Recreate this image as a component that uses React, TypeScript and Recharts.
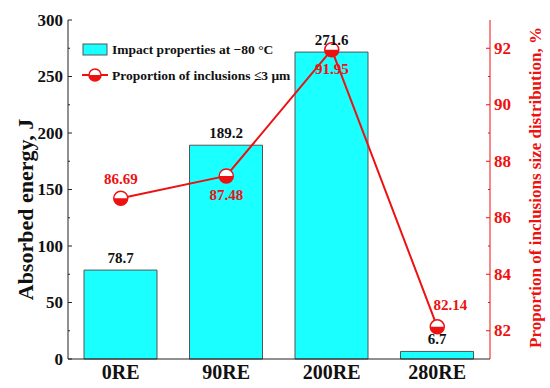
import React from "react";
import {
  ComposedChart,
  Bar,
  Line,
  XAxis,
  YAxis,
  LabelList,
} from "recharts";

const categories = ["0RE", "90RE", "200RE", "280RE"];
const impactEnergy = [78.7, 189.2, 271.6, 6.7];
const inclusionShare = [86.69, 87.48, 91.95, 82.14];
const leftTicks = [0, 25, 50, 75, 100, 125, 150, 175, 200, 225, 250, 275, 300];
const rightTicks = [82, 83, 84, 85, 86, 87, 88, 89, 90, 91, 92];

const data = categories.map((name, i) => ({
  name,
  energy: impactEnergy[i],
  share: inclusionShare[i],
}));

const FONT = "'Liberation Serif', 'Times New Roman', serif";
const RED = "#ee1111";
const CYAN = "#1affff";

// eixo esquerdo: marcas para dentro, rótulo só nos múltiplos de 50
const LeftTick = ({ x, y, payload }: any) => {
  const v = payload.value;
  const major = v % 50 === 0;
  const ax = x + 5;
  return (
    <g>
      <line x1={ax} x2={ax + (major ? 4 : 2)} y1={y} y2={y} stroke="#222" />
      {major && (
        <text x={ax - 5} y={y} textAnchor="end" dominantBaseline="central"
          fontFamily={FONT} fontWeight="bold" fontSize={17} fill="#111">
          {v}
        </text>
      )}
    </g>
  );
};

const RightTick = ({ x, y, payload }: any) => {
  const v = payload.value;
  const major = v % 2 === 0;
  const ax = x - 5;
  return (
    <g>
      <line x1={ax} x2={ax - (major ? 4 : 2)} y1={y} y2={y} stroke={RED} />
      {major && (
        <text x={ax + 4} y={y} textAnchor="start" dominantBaseline="central"
          fontFamily={FONT} fontWeight="bold" fontSize={17} fill={RED}>
          {v}
        </text>
      )}
    </g>
  );
};

const BottomTick = ({ x, y, payload }: any) => (
  <text x={x} y={y + 18} textAnchor="middle" fontFamily={FONT}
    fontWeight="bold" fontSize={20} fill="#111">
    {payload.value}
  </text>
);

const LeftTitle = ({ viewBox }: any) => {
  const cx = viewBox.x + 25;
  const cy = viewBox.y + viewBox.height / 2 + 20;
  return (
    <text x={cx} y={cy} transform={`rotate(-90 ${cx} ${cy})`} textAnchor="middle"
      dominantBaseline="central" fontFamily={FONT} fontWeight="bold" fontSize={22} fill="#111">
      Absorbed energy, J
    </text>
  );
};

const RightTitle = ({ viewBox }: any) => {
  const cx = viewBox.x + 45;
  const cy = viewBox.y + viewBox.height / 2 - 2;
  return (
    <text x={cx} y={cy} transform={`rotate(-90 ${cx} ${cy})`} textAnchor="middle"
      dominantBaseline="central" fontFamily={FONT} fontWeight="bold" fontSize={17} fill={RED}>
      Proportion of inclusions size distribution, %
    </text>
  );
};

// marcador meio cheio: metade de cima branca, de baixo vermelha
const HalfDot = ({ cx, cy, size = 7 }: any) => (
  <g>
    <circle cx={cx} cy={cy} r={size} fill="#fff" stroke={RED} strokeWidth={1.5} />
    <path d={`M ${cx - size} ${cy} A ${size} ${size} 0 0 0 ${cx + size} ${cy} Z`} fill={RED} />
  </g>
);

const ShareLabel = ({ x, y, value, index }: any) => {
  let dx = 0;
  let dy = -19;
  if (index === 1 || index === 2) dy = 19;
  if (index === 3) {
    dx = 13;
    dy = -22;
  }
  return (
    <text x={x + dx} y={y + dy} textAnchor="middle" dominantBaseline="central"
      fontFamily={FONT} fontWeight="bold" fontSize={15} fill={RED}>
      {value.toFixed(2)}
    </text>
  );
};

const EnergyLabel = ({ x, y, width, value }: any) => (
  <text x={x + width / 2} y={y - 12} textAnchor="middle" dominantBaseline="central"
    fontFamily={FONT} fontWeight="bold" fontSize={15} fill="#111">
    {value}
  </text>
);

const LegendBox = () => (
  <svg width={220} height={50} style={{ display: "block" }}>
    <rect x={1} y={1} width={24} height={11} fill={CYAN} stroke="#555" />
    <text x={30} y={11} fontFamily={FONT} fontWeight="bold" fontSize={13.5} fill="#111">
      Impact properties at −80 °C
    </text>
    <line x1={0} x2={26} y1={32} y2={32} stroke={RED} strokeWidth={2} />
    <HalfDot cx={13} cy={32} size={6} />
    <text x={30} y={37} fontFamily={FONT} fontWeight="bold" fontSize={13.5} fill="#111">
      Proportion of inclusions ≤3 μm
    </text>
  </svg>
);

export default function App() {
  return (
    <div style={{ position: "fixed", left: 0, top: 0, width: 550, height: 388, background: "#fff" }}>
      <ComposedChart width={550} height={388} data={data}
        margin={{ top: 20, right: 0, bottom: 0, left: 0 }}>
        <XAxis dataKey="name" height={29} axisLine={{ stroke: "#222" }} tickLine={false}
          tickSize={0} tick={<BottomTick />} interval={0} />
        <XAxis xAxisId="top" dataKey="name" orientation="top" height={0} tick={false}
          tickLine={false} axisLine={{ stroke: "#222" }} />
        <YAxis yAxisId="left" width={68} domain={[0, 300]} ticks={leftTicks} interval={0}
          tickSize={0} tickMargin={5} tickLine={false} axisLine={{ stroke: "#222" }}
          tick={<LeftTick />} label={<LeftTitle />} />
        <YAxis yAxisId="right" orientation="right" width={60} domain={[81, 93]}
          ticks={rightTicks} interval={0} tickSize={0} tickMargin={5} tickLine={false}
          axisLine={{ stroke: RED }} tick={<RightTick />} label={<RightTitle />} />
        <Bar yAxisId="left" dataKey="energy" fill={CYAN} stroke="#555" strokeWidth={1}
          barSize={73} isAnimationActive={false}>
          <LabelList dataKey="energy" content={<EnergyLabel />} />
        </Bar>
        <Line yAxisId="right" dataKey="share" stroke={RED} strokeWidth={2}
          dot={(p: any) => <HalfDot key={p.index} cx={p.cx} cy={p.cy} />}
          activeDot={false} isAnimationActive={false}>
          <LabelList dataKey="share" content={<ShareLabel />} />
        </Line>
      </ComposedChart>
      <div style={{ position: "absolute", left: 82, top: 43 }}>
        <LegendBox />
      </div>
    </div>
  );
}
